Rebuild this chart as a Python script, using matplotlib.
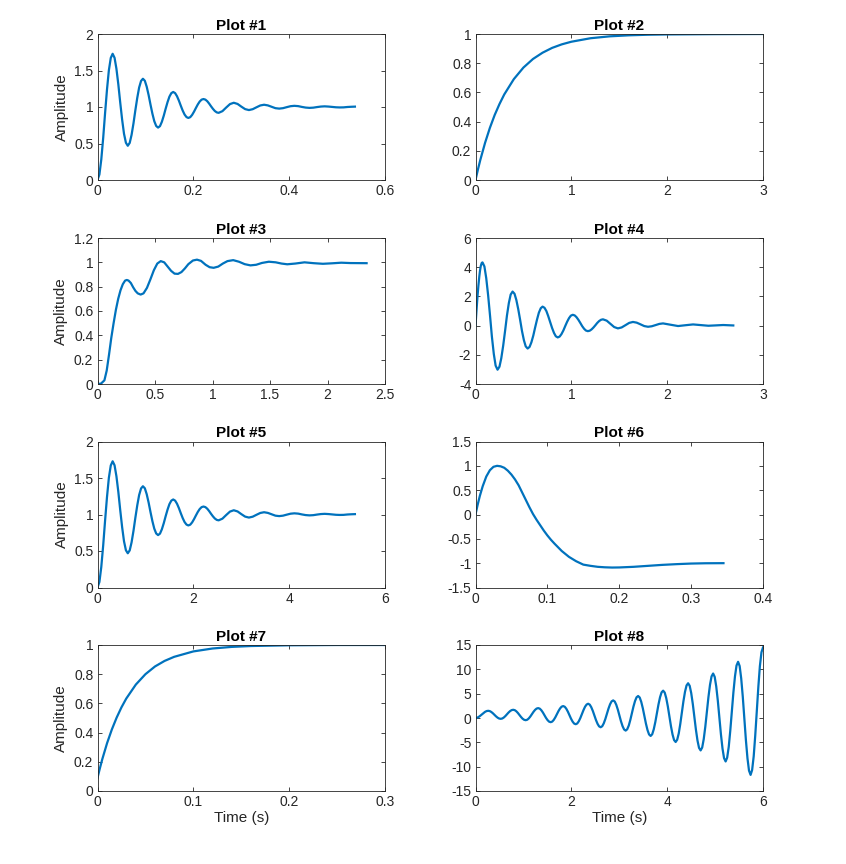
import matplotlib
matplotlib.use("Agg")
import matplotlib.pyplot as plt
from matplotlib.ticker import FormatStrFormatter

plt.rcParams['font.family'] = ['Liberation Sans', 'DejaVu Sans']
plt.rcParams['axes.unicode_minus'] = False

# Plot #1 - lightly damped step response
t1 = [0, 0.004, 0.0079, 0.0119, 0.0158, 0.0198, 0.0237, 0.0277, 0.0316, 0.0356, 0.0395,
      0.0435, 0.0474, 0.0514, 0.0553, 0.0593, 0.0632, 0.0672, 0.0711, 0.0751, 0.079, 0.083,
      0.0869, 0.0909, 0.0948, 0.0988, 0.1027, 0.1067, 0.1106, 0.1146, 0.1185, 0.1225, 0.1264,
      0.1304, 0.1343, 0.1383, 0.1422, 0.1462, 0.1501, 0.1541, 0.158, 0.162, 0.1659, 0.1699,
      0.1738, 0.1778, 0.1817, 0.1857, 0.1896, 0.1936, 0.1975, 0.2015, 0.2054, 0.2094, 0.2133,
      0.2173, 0.2212, 0.2252, 0.2291, 0.2331, 0.237, 0.241, 0.2449, 0.2489, 0.2528,
      0.2607, 0.2686, 0.2765, 0.2844, 0.2923, 0.3002,
      0.3081, 0.316, 0.3239, 0.3318, 0.3397, 0.3476, 0.3555, 0.3634, 0.3713, 0.3792, 0.3871,
      0.395, 0.4029, 0.4108, 0.4187, 0.4266, 0.4345, 0.4424, 0.4503, 0.4582, 0.4661, 0.474,
      0.4819, 0.4898, 0.4977, 0.5056, 0.5135, 0.5214, 0.5293, 0.5372]
y1 = [0, 0.076, 0.281, 0.578, 0.915, 1.238, 1.502, 1.672, 1.729, 1.674, 1.524, 1.308, 1.062,
      0.827, 0.634, 0.510, 0.469, 0.508, 0.618, 0.776, 0.955, 1.126, 1.267, 1.357, 1.387,
      1.359, 1.278, 1.163, 1.033, 0.908, 0.806, 0.740, 0.718,
      0.738, 0.797, 0.881, 0.976, 1.067, 1.142, 1.190, 1.206, 1.190, 1.148, 1.087,
      1.018, 0.951, 0.897, 0.862, 0.850, 0.861, 0.892, 0.937, 0.987, 1.036, 1.075,
      1.101, 1.109, 1.101, 1.079, 1.046, 1.009, 0.974, 0.945, 0.926, 0.920,
      0.943, 0.993, 1.040, 1.058, 1.042, 1.005,
      0.971, 0.958, 0.970, 0.996, 1.021, 1.031, 1.022, 1.003, 0.984, 0.978, 0.984,
      0.998, 1.011, 1.016, 1.012, 1.001, 0.992, 0.988, 0.991, 0.999, 1.006, 1.009,
      1.006, 1.001, 0.996, 0.994, 0.995, 1.000, 1.003, 1.005]

# Plot #2 - first order rise
t2 = [0, 0.025, 0.05, 0.1, 0.15, 0.2, 0.25, 0.3, 0.4, 0.5, 0.6, 0.7, 0.8, 0.9, 1.0, 1.2, 1.4,
      1.6, 1.8, 2.0, 2.5, 3.0]
y2 = [0, 0.071, 0.137, 0.255, 0.357, 0.445, 0.520, 0.586, 0.691, 0.770, 0.829, 0.872, 0.905,
      0.929, 0.947, 0.971, 0.984, 0.991, 0.995, 0.997, 0.999, 1.0]

# Plot #3
t3 = [0, 0.03, 0.06, 0.08, 0.10, 0.12, 0.14, 0.16, 0.18, 0.20, 0.22, 0.24, 0.255, 0.27, 0.29,
      0.31, 0.33, 0.35, 0.375, 0.40, 0.43, 0.46, 0.49, 0.52, 0.55, 0.58, 0.61, 0.64, 0.67,
      0.70, 0.73, 0.76, 0.79, 0.83, 0.865, 0.90, 0.94, 0.975, 1.01, 1.05, 1.09, 1.13, 1.18,
      1.23, 1.28, 1.33, 1.38, 1.43, 1.49, 1.55, 1.60, 1.65, 1.72, 1.80, 1.88, 1.96, 2.04,
      2.12, 2.20, 2.34]
y3 = [0, 0.003, 0.03, 0.11, 0.24, 0.38, 0.50, 0.61, 0.70, 0.77, 0.82, 0.85, 0.855, 0.85, 0.83,
      0.795, 0.765, 0.745, 0.735, 0.745, 0.79, 0.86, 0.935, 0.99, 1.01, 1.0, 0.965, 0.93,
      0.907, 0.905, 0.92, 0.95, 0.985, 1.015, 1.022, 1.012, 0.98, 0.96, 0.955, 0.965, 0.99,
      1.01, 1.018, 1.005, 0.985, 0.975, 0.98, 0.995, 1.005, 1.0, 0.99, 0.984, 0.99, 1.0,
      0.993, 0.988, 0.992, 0.997, 0.994, 0.993]

# Plot #4 - decaying oscillation around zero
t4 = [0, 0.01, 0.02, 0.03, 0.04, 0.047, 0.055, 0.065, 0.073,
      0.093, 0.112, 0.132, 0.152, 0.171, 0.191, 0.210, 0.23,
      0.250, 0.269, 0.289, 0.309, 0.328, 0.348, 0.367, 0.387,
      0.407, 0.426, 0.446, 0.466, 0.485, 0.505, 0.524, 0.544,
      0.564, 0.583, 0.603, 0.622, 0.642, 0.661, 0.681, 0.70,
      0.72, 0.74, 0.759, 0.779, 0.799, 0.819, 0.838, 0.858,
      0.878, 0.897, 0.917, 0.936, 0.956, 0.976, 0.995, 1.015,
      1.035, 1.054, 1.074, 1.094, 1.113, 1.133, 1.152, 1.172,
      1.192, 1.211, 1.231, 1.251, 1.27, 1.29, 1.31, 1.33,
      1.369, 1.408, 1.447, 1.486, 1.525, 1.565, 1.604, 1.643, 1.682, 1.722,
      1.761, 1.80, 1.839, 1.879, 1.918, 1.957, 2.035, 2.114, 2.19, 2.27, 2.35, 2.43, 2.51,
      2.585, 2.69]
y4 = [0, 0.99, 1.92, 2.72, 3.39, 3.76, 4.08, 4.29, 4.33,
      4.051, 3.253, 2.063, 0.655, -0.753, -1.943, -2.741, -3.02,
      -2.817, -2.236, -1.37, -0.345, 0.68, 1.546, 2.127, 2.33,
      2.182, 1.759, 1.127, 0.38, -0.367, -0.999, -1.422, -1.57,
      -1.461, -1.15, -0.685, -0.135, 0.415, 0.88, 1.191, 1.30,
      1.22, 0.991, 0.649, 0.245, -0.159, -0.501, -0.73, -0.81,
      -0.751, -0.583, -0.332, -0.035, 0.262, 0.513, 0.681, 0.74,
      0.697, 0.576, 0.394, 0.18, -0.034, -0.216, -0.337, -0.38,
      -0.349, -0.261, -0.13, 0.025, 0.18, 0.311, 0.399, 0.43,
      0.339, 0.12, -0.099, -0.19, -0.126, 0.03, 0.186, 0.25, 0.202, 0.085,
      -0.032, -0.08, -0.046, 0.035, 0.116, 0.15, 0.06, -0.03, 0.025, 0.08, 0.035, -0.01, 0.015,
      0.04, 0.01]

# Plot #5 - same shape as plot #1 on a 10x longer time axis
t5 = [0, 0.04, 0.079, 0.119, 0.158, 0.198, 0.237, 0.277, 0.316, 0.356, 0.395, 0.435, 0.474,
      0.514, 0.553, 0.593, 0.632, 0.672, 0.711, 0.751, 0.79, 0.83, 0.869, 0.909, 0.948,
      0.988, 1.027, 1.067, 1.106, 1.146, 1.185, 1.225, 1.264,
      1.304, 1.343, 1.383, 1.422, 1.462, 1.501, 1.541, 1.58, 1.62, 1.659, 1.699,
      1.738, 1.778, 1.817, 1.857, 1.896, 1.936, 1.975, 2.015, 2.054, 2.094, 2.133,
      2.173, 2.212, 2.252, 2.291, 2.331, 2.37, 2.41, 2.449, 2.489, 2.528,
      2.607, 2.686, 2.765, 2.844, 2.923, 3.002,
      3.081, 3.16, 3.239, 3.318, 3.397, 3.476, 3.555, 3.634, 3.713, 3.792, 3.871,
      3.95, 4.029, 4.108, 4.187, 4.266, 4.345, 4.424, 4.503, 4.582, 4.661, 4.74,
      4.819, 4.898, 4.977, 5.056, 5.135, 5.214, 5.293, 5.372]
y5 = y1

# Plot #6 - undershoot to -1
t6 = [0, 0.003, 0.006, 0.01, 0.015, 0.02, 0.025, 0.03, 0.035, 0.04, 0.045, 0.05, 0.055, 0.06,
      0.065, 0.07, 0.075, 0.08, 0.085, 0.09, 0.095, 0.1, 0.105, 0.11, 0.12, 0.13, 0.14, 0.15,
      0.16, 0.17, 0.18, 0.19, 0.2, 0.22, 0.24, 0.26, 0.28, 0.3, 0.32, 0.345]
y6 = [0, 0.2, 0.38, 0.58, 0.78, 0.91, 0.98, 1.0, 0.99, 0.96, 0.9, 0.82, 0.72, 0.6, 0.45, 0.3,
      0.15, 0.01, -0.11, -0.22, -0.33, -0.43, -0.52, -0.6, -0.75, -0.87, -0.96, -1.03,
      -1.055, -1.075, -1.085, -1.09, -1.088, -1.075, -1.055, -1.035, -1.02, -1.008, -1.002,
      -1.0]

# Plot #7 - first order rise with offset start
t7 = [0, 0.0025, 0.005, 0.01, 0.015, 0.02, 0.025, 0.03, 0.04, 0.05, 0.06, 0.07, 0.08, 0.1,
      0.12, 0.14, 0.16, 0.2, 0.25, 0.3]
y7 = [0.09, 0.156, 0.218, 0.328, 0.422, 0.503, 0.573, 0.633, 0.729, 0.800, 0.853, 0.891,
      0.919, 0.956, 0.976, 0.987, 0.993, 0.998, 1.0, 1.0]

# Plot #8 - growing oscillation (one row per half cycle)
t8 = [0,
      0.033, 0.066, 0.099, 0.133, 0.166, 0.199, 0.232, 0.265,
      0.298, 0.330, 0.363, 0.396, 0.428, 0.461, 0.493, 0.526,
      0.559, 0.591, 0.624, 0.657, 0.689, 0.722, 0.754, 0.787,
      0.820, 0.852, 0.885, 0.917, 0.950, 0.982, 1.015, 1.047,
      1.080, 1.112, 1.145, 1.178, 1.210, 1.243, 1.275, 1.308,
      1.341, 1.373, 1.406, 1.439, 1.471, 1.504, 1.536, 1.569,
      1.602, 1.634, 1.667, 1.700, 1.732, 1.765, 1.797, 1.830,
      1.863, 1.895, 1.928, 1.961, 1.993, 2.026, 2.058, 2.091,
      2.124, 2.156, 2.189, 2.221, 2.254, 2.286, 2.319, 2.351,
      2.384, 2.416, 2.449, 2.482, 2.514, 2.547, 2.579, 2.612,
      2.645, 2.677, 2.710, 2.743, 2.775, 2.808, 2.840, 2.873,
      2.906, 2.938, 2.971, 3.004, 3.036, 3.069, 3.101, 3.134,
      3.166, 3.199, 3.231, 3.264, 3.296, 3.329, 3.361, 3.394,
      3.427, 3.459, 3.492, 3.525, 3.557, 3.590, 3.622, 3.655,
      3.688, 3.720, 3.753, 3.786, 3.818, 3.851, 3.883, 3.916,
      3.949, 3.981, 4.014, 4.047, 4.079, 4.112, 4.144, 4.177,
      4.209, 4.242, 4.274, 4.307, 4.339, 4.372, 4.404, 4.437,
      4.470, 4.502, 4.535, 4.568, 4.600, 4.633, 4.665, 4.698,
      4.731, 4.763, 4.796, 4.829, 4.861, 4.894, 4.926, 4.959,
      4.992, 5.024, 5.057, 5.090, 5.122, 5.155, 5.187, 5.220,
      5.252, 5.285, 5.317, 5.350, 5.382, 5.415, 5.447, 5.480,
      5.513, 5.545, 5.578, 5.611, 5.643, 5.676, 5.708, 5.741,
      5.773, 5.806, 5.838, 5.871, 5.903, 5.935, 5.968, 6.0]
y8 = [0,
      0.056, 0.217, 0.457, 0.74, 1.023, 1.263, 1.424, 1.48,
      1.417, 1.238, 0.971, 0.655, 0.339, 0.072, -0.107, -0.17,
      -0.099, 0.102, 0.404, 0.76, 1.116, 1.418, 1.619, 1.69,
      1.609, 1.377, 1.03, 0.62, 0.21, -0.137, -0.369, -0.45,
      -0.356, -0.087, 0.315, 0.79, 1.265, 1.667, 1.936, 2.03,
      1.92, 1.607, 1.138, 0.585, 0.032, -0.437, -0.75, -0.86,
      -0.734, -0.375, 0.161, 0.795, 1.429, 1.965, 2.324, 2.45,
      2.308, 1.904, 1.299, 0.585, -0.129, -0.734, -1.138, -1.28,
      -1.12, -0.663, 0.019, 0.825, 1.631, 2.313, 2.77, 2.93,
      2.746, 2.222, 1.44, 0.515, -0.41, -1.192, -1.716, -1.9,
      -1.69, -1.091, -0.197, 0.86, 1.917, 2.811, 3.41, 3.62,
      3.384, 2.71, 1.704, 0.515, -0.674, -1.68, -2.354, -2.59,
      -2.32, -1.548, -0.397, 0.965, 2.327, 3.478, 4.25, 4.52,
      4.208, 3.317, 1.987, 0.415, -1.157, -2.487, -3.378, -3.69,
      -3.336, -2.326, -0.818, 0.965, 2.748, 4.256, 5.266, 5.62,
      5.219, 4.074, 2.365, 0.345, -1.675, -3.384, -4.529, -4.93,
      -4.471, -3.162, -1.206, 1.105, 3.416, 5.372, 6.681, 7.14,
      6.616, 5.118, 2.883, 0.24, -2.403, -4.638, -6.136, -6.66,
      -6.06, -4.345, -1.786, 1.24, 4.266, 6.825, 8.54, 9.14,
      8.453, 6.493, 3.565, 0.105, -3.355, -6.283, -8.243, -8.93,
      -8.152, -5.93, -2.612, 1.31, 5.232, 8.55, 10.772, 11.55,
      10.667, 8.145, 4.38, -0.07, -4.52, -8.285, -10.807, -11.69,
      -10.695, -7.853, -3.61, 1.405, 6.42, 10.663, 13.505, 14.5]

titles = ['Plot #1', 'Plot #2', 'Plot #3', 'Plot #4', 'Plot #5', 'Plot #6', 'Plot #7', 'Plot #8']
series = [(t1, y1), (t2, y2), (t3, y3), (t4, y4), (t5, y5), (t6, y6), (t7, y7), (t8, y8)]
xlims = [(0, 0.6), (0, 3), (0, 2.5), (0, 3), (0, 6), (0, 0.4), (0, 0.3), (0, 6)]
xticks = [[0, 0.2, 0.4, 0.6], [0, 1, 2, 3], [0, 0.5, 1, 1.5, 2, 2.5], [0, 1, 2, 3],
          [0, 2, 4, 6], [0, 0.1, 0.2, 0.3, 0.4], [0, 0.1, 0.2, 0.3], [0, 2, 4, 6]]
ylims = [(0, 2), (0, 1), (0, 1.2), (-4, 6), (0, 2), (-1.5, 1.5), (0, 1), (-15, 15)]
yticks = [[0, 0.5, 1, 1.5, 2], [0, 0.2, 0.4, 0.6, 0.8, 1], [0, 0.2, 0.4, 0.6, 0.8, 1, 1.2],
          [-4, -2, 0, 2, 4, 6], [0, 0.5, 1, 1.5, 2], [-1.5, -1, -0.5, 0, 0.5, 1, 1.5],
          [0, 0.2, 0.4, 0.6, 0.8, 1], [-15, -10, -5, 0, 5, 10, 15]]

W, H = 846, 864
fig = plt.figure(figsize=(W / 100, H / 100), dpi=100)

col_left = [97.5, 475.5]
col_width = 287.5
row_top = [34, 238, 441.5, 645]
row_height = 146

for i in range(8):
    r, c = divmod(i, 2)
    ax = fig.add_axes([col_left[c] / W, 1 - (row_top[r] + row_height) / H,
                       col_width / W, row_height / H])
    t, y = series[i]
    ax.plot(t, y, color='#0072BD', linewidth=1.6, solid_joinstyle='round')
    ax.set_xlim(*xlims[i])
    ax.set_ylim(*ylims[i])
    ax.set_xticks(xticks[i])
    ax.set_yticks(yticks[i])
    ax.xaxis.set_major_formatter(FormatStrFormatter('%g'))
    ax.yaxis.set_major_formatter(FormatStrFormatter('%g'))
    ax.tick_params(direction='in', length=3, width=0.6, top=True, right=True,
                   labelsize=10, colors='#262626', pad=3)
    for sp in ax.spines.values():
        sp.set_linewidth(0.6)
        sp.set_color('#262626')
    ax.set_title(titles[i], fontsize=11, fontweight='bold', pad=3)
    if c == 0:
        ax.set_ylabel('Amplitude', fontsize=11, color='#262626', labelpad=4)
    if r == 3:
        ax.set_xlabel('Time (s)', fontsize=11, color='#262626', labelpad=1)

fig.savefig('out.png', dpi=100, facecolor='white')
